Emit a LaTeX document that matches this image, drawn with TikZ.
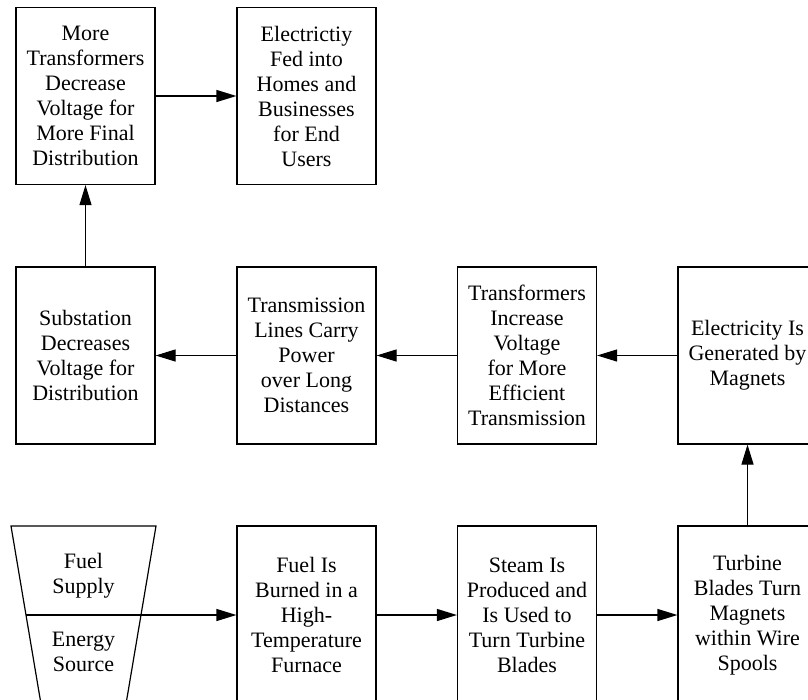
\documentclass[tikz,border=0pt]{standalone}
\usepackage{fontspec}
\setmainfont{Liberation Serif}
\usetikzlibrary{arrows.meta}
\begin{document}
\begin{tikzpicture}[x=1pt,y=1pt,
  box/.style={draw,line width=1.2pt,minimum width=139pt,minimum height=177pt,inner sep=0pt,align=center,font=\fontsize{22}{25}\selectfont},
  lbl/.style={align=center,inner sep=0pt,font=\fontsize{22}{25}\selectfont},
  arr/.style={line width=1.2pt,-{Triangle[length=20pt,width=12pt]}},
  edge/.style={line width=1.2pt}]
\useasboundingbox (0,0) rectangle (808,-699);
\clip (0,0) rectangle (808,-699);
% top row
\node[box] (more) at (85.5,-96) {More\\Transformers\\Decrease\\Voltage for\\More Final\\Distribution};
\node[box] (homes) at (306.5,-96) {Electrictiy\\Fed into\\Homes and\\Businesses\\for End\\Users};
% middle row
\node[box] (sub) at (85.5,-355.5) {Substation\\Decreases\\Voltage for\\Distribution};
\node[box] (trans) at (306.5,-355.5) {Transmission\\Lines Carry\\Power\\over Long\\Distances};
\node[box] (tinc) at (527,-355.5) {Transformers\\Increase\\Voltage\\for More\\Efficient\\Transmission};
\node[box] (gen) at (747.5,-355.5) {Electricity Is\\Generated by\\Magnets};
% bottom row
\node[box,minimum height=178pt] (burn) at (306.5,-615) {Fuel Is\\Burned in a\\High-\\Temperature\\Furnace};
\node[box,minimum height=178pt] (steam) at (527,-615) {Steam Is\\Produced and\\Is Used to\\Turn Turbine\\Blades};
\node[box,minimum height=178pt] (turb) at (747.5,-615) {Turbine\\Blades Turn\\Magnets\\within Wire\\Spools};
% trapezoid
\coordinate (tl) at (11,-526);
\coordinate (tr) at (156,-526);
\coordinate (bl) at (41,-704);
\coordinate (br) at (126,-704);
\coordinate (ml) at (26,-615);
\coordinate (mr) at (141.3,-615);
\draw[edge] (bl) -- (tl) -- (tr) -- (br);
\draw[edge] (ml) -- (mr);
\node[lbl] (fuel) at (83.5,-576) {Fuel\\Supply};
\node[lbl] (energy) at (83.5,-652) {Energy\\Source};
% connectors
\draw[arr] (more.east) -- (homes.west);
\draw[arr] (sub.north) -- (more.south);
\draw[arr] (gen.west) -- (tinc.east);
\draw[arr] (tinc.west) -- (trans.east);
\draw[arr] (trans.west) -- (sub.east);
\draw[arr] (mr) -- (burn.west);
\draw[arr] (burn.east) -- (steam.west);
\draw[arr] (steam.east) -- (turb.west);
\draw[arr] (turb.north) -- (gen.south);
\end{tikzpicture}
\end{document}
